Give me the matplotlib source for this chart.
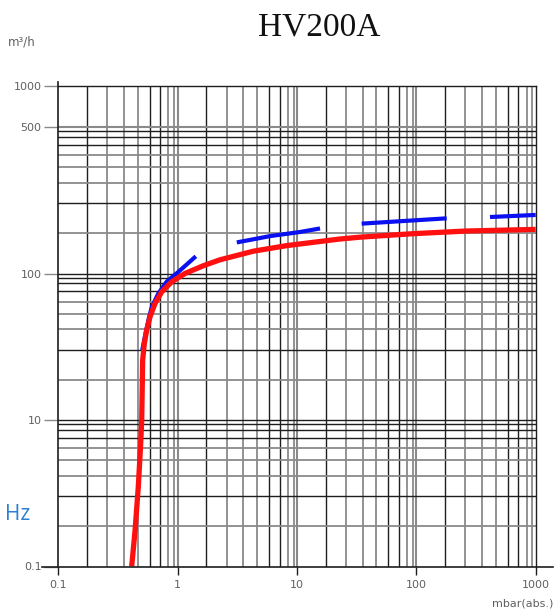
import matplotlib
matplotlib.use("Agg")
import matplotlib.pyplot as plt
import numpy as np

# ---- data ----
red_x = [0.412, 0.44, 0.468, 0.49, 0.50, 0.509, 0.526, 0.55, 0.587, 0.646, 0.735,
         0.891, 1.15, 1.64, 2.26, 4.31, 8.2, 22.9, 33.7, 94, 264, 1000]
red_y = [1.0, 1.77, 3.5, 6.9, 10, 25.6, 33.3, 41, 50.6, 62.4, 74.9,
         87.7, 100, 113, 124, 142, 155, 172, 177, 187, 195, 200]

blue1_x = [0.505, 0.535, 0.575, 0.607, 0.689, 0.81, 1.013, 1.42]
blue1_y = [30, 38, 50, 59, 73, 88, 102.5, 131]
blue2_x = [3.13, 5.94, 10.6, 15.6]
blue2_y = [163, 180, 192, 203]
blue3_x = [34.8, 179.5]
blue3_y = [219, 238]
blue4_x = [414, 1000]
blue4_y = [243, 251]

x_ticks = [0.1, 1, 10, 100, 1000]
x_tick_labels = ["0.1", "1", "10", "100", "1000"]
y_ticks = [1, 10, 100, 1000, 1905]
y_tick_labels = ["0.1", "10", "100", "500", "1000"]

title = "HV200A"

# ---- figure ----
fig = plt.figure(figsize=(5.57, 6.12), dpi=100)
L, R = 58.3 / 557, 535.7 / 557
B, T = 1 - 566.5 / 612, 1 - 86 / 612
ax = fig.add_axes([L, B, R - L, T - B])
ax.set_xscale("log")
ax.set_yscale("log")
ax.set_xlim(0.1, 1000)
ax.set_ylim(1, 1905)

gray = "#8a8a8a"
black = "#1e1e1e"

# grid lines
xf = [0.24, 0.41, 0.55, 0.665, 0.765, 0.855, 0.923, 0.972]
xc = [black, gray, gray, gray, black, black, gray, gray]
for d in range(-1, 3):
    for f, c in zip(xf, xc):
        ax.axvline(10 ** (d + f), color=c, lw=1.3 if c == gray else 1.0, zorder=1)
for d in [1, 10, 100]:
    ax.axvline(d, color=gray, lw=1.5, zorder=1)

yf = [0.275, 0.48, 0.618, 0.724, 0.808, 0.878, 0.932, 0.97]
yc = [gray, black, gray, gray, gray, black, black, black]
for d in range(0, 3):
    for f, c in zip(yf, yc):
        ax.axhline(10 ** (d + f), color=c, lw=1.3 if c == gray else 1.0, zorder=1)
ax.axhline(10, color=black, lw=1.0, zorder=1)
ax.axhline(100, color=black, lw=1.0, zorder=1)
ax.axhline(1000, color=gray, lw=1.5, zorder=1)

# curves
for bx, by in [(blue1_x, blue1_y), (blue2_x, blue2_y), (blue3_x, blue3_y), (blue4_x, blue4_y)]:
    ax.plot(bx, by, color="#0a10f0", lw=3.0, solid_capstyle="butt", zorder=3)
ax.plot(red_x, red_y, color="#ff1010", lw=3.8, solid_capstyle="butt", zorder=4)

# spines
for s in ["left", "bottom"]:
    ax.spines[s].set_visible(False)
ax.spines["top"].set_color(black)
ax.spines["right"].set_color(black)
ax.spines["top"].set_linewidth(1.0)
ax.spines["right"].set_linewidth(1.0)
ax.plot([0, 0], [0, 1 + 4 / 480.5], transform=ax.transAxes, color=black, lw=1.2, clip_on=False, zorder=5)
ax.plot([-16.6 / 477.4, 1 + 17.3 / 477.4], [0, 0], transform=ax.transAxes, color=black, lw=1.2, clip_on=False, zorder=5)

# ticks
ax.set_xticks(x_ticks)
ax.set_xticklabels(x_tick_labels)
ax.set_yticks(y_ticks)
ax.set_yticklabels(y_tick_labels)
ax.minorticks_off()
ax.tick_params(axis="x", direction="out", length=6, width=1.0, color=black,
               labelsize=8, labelcolor="#606060", pad=4, top=False)
ax.tick_params(axis="y", direction="out", length=10, width=1.0, color=gray,
               labelsize=8, labelcolor="#606060", pad=2, right=False)

# texts
fig.text(319 / 557, 1 - 27 / 612, title, ha="center", va="center",
         fontsize=24, family="Liberation Serif", color="#111111")
fig.text(8 / 557, 1 - 42 / 612, "m³/h", ha="left", va="center", fontsize=8.5, color="#606060")
fig.text(553 / 557, 1 - 604 / 612, "mbar(abs.)", ha="right", va="center", fontsize=8, color="#606060")
fig.text(5 / 557, 1 - 515 / 612, "Hz", ha="left", va="center", fontsize=15,
         family="Open Sans", color="#2a7fd4")

fig.savefig("out.png", dpi=100)
